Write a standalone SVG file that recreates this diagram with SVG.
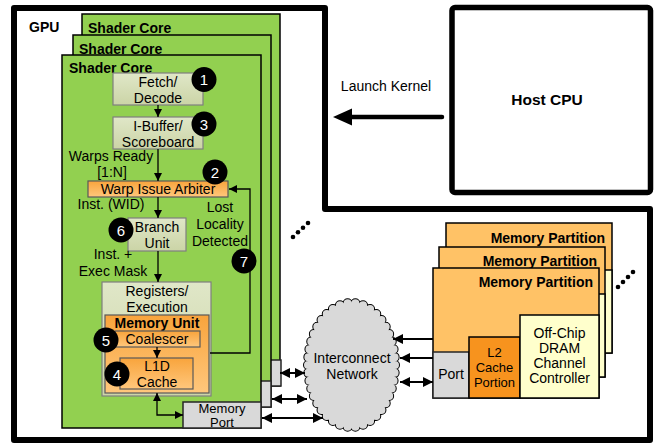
<svg xmlns="http://www.w3.org/2000/svg" width="656" height="443" viewBox="0 0 656 443">
<defs>
<style>
text{font-family:"Liberation Sans",Arial,sans-serif;font-size:14px;fill:#000}
.b{font-weight:bold}
.c{text-anchor:middle}
.e{text-anchor:end}
.s{font-size:13px}
.core{fill:#92d050;stroke:#000;stroke-width:1.5}
.gray{fill:#d9d9d9;stroke:#262626;stroke-width:1.5}
.box{fill:url(#gb);stroke:#7f7f7f;stroke-width:1.2}
.org{fill:url(#og);stroke:#595959;stroke-width:1.2}
.mp{fill:#ffc266;stroke:#000;stroke-width:1.5}
.dram{fill:#ffffcc;stroke:#000;stroke-width:1.5}
.l2{fill:#f7931e;stroke:#000;stroke-width:1.5}
.badge circle{fill:#000}
.badge text{fill:#fff;text-anchor:middle;font-size:15px}
.ln{fill:none;stroke:#000;stroke-width:1.3}
.dl{fill:none;stroke:#000;stroke-width:2}
</style>
<linearGradient id="gb" x1="0" y1="0" x2="0" y2="1"><stop offset="0" stop-color="#e0e7c8"/><stop offset="1" stop-color="#cbd4a6"/></linearGradient>
<linearGradient id="og" x1="0" y1="0" x2="0" y2="1"><stop offset="0" stop-color="#f8a43c"/><stop offset="1" stop-color="#ffc77c"/></linearGradient>
<marker id="ah" viewBox="0 0 10 10" refX="10" refY="5" markerWidth="8" markerHeight="8" markerUnits="userSpaceOnUse" orient="auto-start-reverse"><path d="M0,0 L10,5 L0,10 z" fill="#000"/></marker>
<marker id="ah2" viewBox="0 0 10 10" refX="10" refY="5" markerWidth="10" markerHeight="10" markerUnits="userSpaceOnUse" orient="auto-start-reverse"><path d="M0,0 L10,5 L0,10 z" fill="#000"/></marker>
</defs>
<rect width="656" height="443" fill="#fff"/>
<g id="gpu">
<path d="M14,8 H325 V209 H650 V440 H14 Z" fill="#fff" stroke="#000" stroke-width="6" stroke-linejoin="round"/>
<text x="29" y="32" class="b">GPU</text>
</g>
<g id="host-cpu">
<rect x="452" y="7.5" width="198.5" height="185" rx="3" fill="#fff" stroke="#000" stroke-width="5.5"/>
<text x="547" y="105" class="b c" style="font-size:15.5px">Host CPU</text>
</g>
<g id="launch-kernel">
<text x="386" y="91" class="c">Launch Kernel</text>
<line x1="442" y1="117" x2="350" y2="117" stroke="#000" stroke-width="4.5" stroke-linecap="round"/>
<polygon points="333,117 352,108.5 352,125.5" fill="#000"/>
</g>
<g id="shader-core-3">
<rect x="82" y="14" width="198" height="372" class="core"/>
<rect x="203" y="360" width="78" height="26" class="gray"/>
<text x="88" y="33" class="b">Shader Core</text>
</g>
<g id="shader-core-2">
<rect x="73" y="35" width="198" height="372" class="core"/>
<rect x="193" y="381" width="78" height="26" class="gray"/>
<text x="79" y="54" class="b">Shader Core</text>
</g>
<g id="shader-core-1">
<rect x="62" y="55" width="199" height="373" class="core"/>
<text x="69" y="73" class="b">Shader Core</text>
</g>
<g id="fetch-decode">
<rect x="113" y="73" width="90" height="32" class="box"/>
<text x="158" y="87" class="c">Fetch/</text>
<text x="158" y="103" class="c">Decode</text>
</g>
<g id="ibuffer">
<rect x="113" y="117" width="90" height="32" class="box"/>
<text x="158" y="131" class="c">I-Buffer/</text>
<text x="158" y="146.5" class="c">Scoreboard</text>
</g>
<g id="warp-issue-arbiter">
<rect x="88" y="181" width="140" height="16" class="org"/>
<text x="158" y="193.5" class="c">Warp Issue Arbiter</text>
</g>
<g id="branch-unit">
<rect x="128" y="218" width="58" height="33" class="box"/>
<text x="157" y="232" class="c">Branch</text>
<text x="157" y="248" class="c">Unit</text>
</g>
<g id="registers-execution">
<rect x="102" y="282" width="109" height="114" class="box"/>
<text x="157" y="296" class="c">Registers/</text>
<text x="157" y="312" class="c">Execution</text>
</g>
<g id="memory-unit">
<rect x="105" y="315" width="104" height="78" class="org"/>
<text x="157" y="327.5" class="b c">Memory Unit</text>
</g>
<g id="coalescer">
<rect x="115" y="331" width="85" height="16" class="org"/>
<text x="157" y="343.5" class="c">Coalescer</text>
</g>
<g id="l1d-cache">
<rect x="120" y="358" width="73" height="31" class="org"/>
<text x="157" y="371" class="c">L1D</text>
<text x="157" y="387" class="c">Cache</text>
</g>
<g id="memory-port">
<rect x="183" y="402" width="78" height="26" class="gray"/>
<text x="222" y="412.5" class="c s">Memory</text>
<text x="222" y="427" class="c s">Port</text>
</g>
<g id="labels">
<text x="111" y="161" class="c">Warps Ready</text>
<text x="112" y="177" class="c">[1:N]</text>
<text x="111" y="209" class="c">Inst. (WID)</text>
<text x="220" y="212" class="c">Lost</text>
<text x="220" y="229" class="c">Locality</text>
<text x="220" y="246" class="c">Detected</text>
<text x="113" y="259" class="c">Inst. +</text>
<text x="113" y="276" class="c">Exec Mask</text>
</g>
<g id="interconnect">
<path d="M308,365 A43.5,62 0 1,1 395,365 A43.5,62 0 1,1 308,365 Z" pathLength="42" fill="none" stroke="#000" stroke-width="10" stroke-linecap="round" stroke-dasharray="0 1"/>
<path d="M308,365 A43.5,62 0 1,1 395,365 A43.5,62 0 1,1 308,365 Z" pathLength="42" fill="none" stroke="#d9d9d9" stroke-width="8" stroke-linecap="round" stroke-dasharray="0 1"/>
<path d="M308,365 A43.5,62 0 1,1 395,365 A43.5,62 0 1,1 308,365 Z" fill="#d9d9d9"/>
<text x="352" y="363" class="c">Interconnect</text>
<text x="352" y="379" class="c">Network</text>
</g>
<g id="memory-partition-3">
<rect x="446" y="223" width="166" height="130" class="mp"/>
<rect x="533" y="270" width="79" height="83" class="dram"/>
<text x="605" y="243" class="b e">Memory Partition</text>
</g>
<g id="memory-partition-2">
<rect x="439" y="247" width="166" height="130" class="mp"/>
<rect x="526" y="294" width="79" height="83" class="dram"/>
<text x="597" y="266" class="b e">Memory Partition</text>
</g>
<g id="memory-partition-1">
<rect x="433" y="268" width="166" height="130" class="mp"/>
<text x="593" y="287" class="b e">Memory Partition</text>
<rect x="433" y="352" width="36" height="46" class="gray"/>
<text x="451" y="379" class="c">Port</text>
<rect x="469" y="337" width="51" height="61" class="l2"/>
<text x="494.5" y="357" class="c s">L2</text>
<text x="494.5" y="372" class="c s">Cache</text>
<text x="494.5" y="387" class="c s">Portion</text>
<rect x="520" y="315" width="79" height="83" class="dram"/>
<text x="559.5" y="338" class="c">Off-Chip</text>
<text x="559.5" y="353" class="c">DRAM</text>
<text x="559.5" y="368" class="c">Channel</text>
<text x="559.5" y="383" class="c">Controller</text>
</g>
<g id="ellipsis" fill="#000">
<circle cx="293" cy="237" r="2.3"/><circle cx="298" cy="232.3" r="2.3"/><circle cx="303" cy="227.7" r="2.3"/><circle cx="308" cy="223" r="2.3"/>
<circle cx="618" cy="287" r="2.3"/><circle cx="623" cy="282" r="2.3"/><circle cx="628" cy="277" r="2.3"/><circle cx="633" cy="272" r="2.3"/>
</g>
<g id="connectors">
<path d="M158,105 V117" class="ln" marker-end="url(#ah)"/>
<path d="M158,149 V181" class="ln" marker-end="url(#ah)"/>
<path d="M158,197 V218" class="ln" marker-end="url(#ah)"/>
<path d="M158,251 V282" class="ln" marker-end="url(#ah)"/>
<path d="M157,347 V358" class="ln" marker-end="url(#ah)"/>
<path d="M210,353 H250 V189 H229" class="ln" marker-end="url(#ah)"/>
<path d="M157,393 V415 H183" class="ln" marker-start="url(#ah)" marker-end="url(#ah)"/>
<path d="M280,373 H305" class="dl" marker-start="url(#ah2)" marker-end="url(#ah2)"/>
<path d="M272,399 H307" class="dl" marker-start="url(#ah2)" marker-end="url(#ah2)"/>
<path d="M262,418 H323" class="dl" marker-start="url(#ah2)" marker-end="url(#ah2)"/>
<path d="M433,339 H393" class="dl" marker-end="url(#ah2)"/>
<path d="M433,358 H400" class="dl" marker-end="url(#ah2)"/>
<path d="M400,382 H433" class="dl" marker-start="url(#ah2)" marker-end="url(#ah2)"/>
</g>
<g id="badges" class="badge">
<g id="badge-1"><circle cx="204" cy="79.5" r="12.5"/><text x="204" y="85">1</text></g>
<g id="badge-2"><circle cx="215" cy="172" r="12.5"/><text x="215" y="177.5">2</text></g>
<g id="badge-3"><circle cx="204" cy="124" r="12.5"/><text x="204" y="129.5">3</text></g>
<g id="badge-4"><circle cx="117" cy="374" r="12.5"/><text x="117" y="379.5">4</text></g>
<g id="badge-5"><circle cx="106" cy="340" r="12.5"/><text x="106" y="345.5">5</text></g>
<g id="badge-6"><circle cx="121" cy="230" r="12.5"/><text x="121" y="235.5">6</text></g>
<g id="badge-7"><circle cx="244" cy="261" r="12.5"/><text x="244" y="266.5">7</text></g>
</g>
</svg>
